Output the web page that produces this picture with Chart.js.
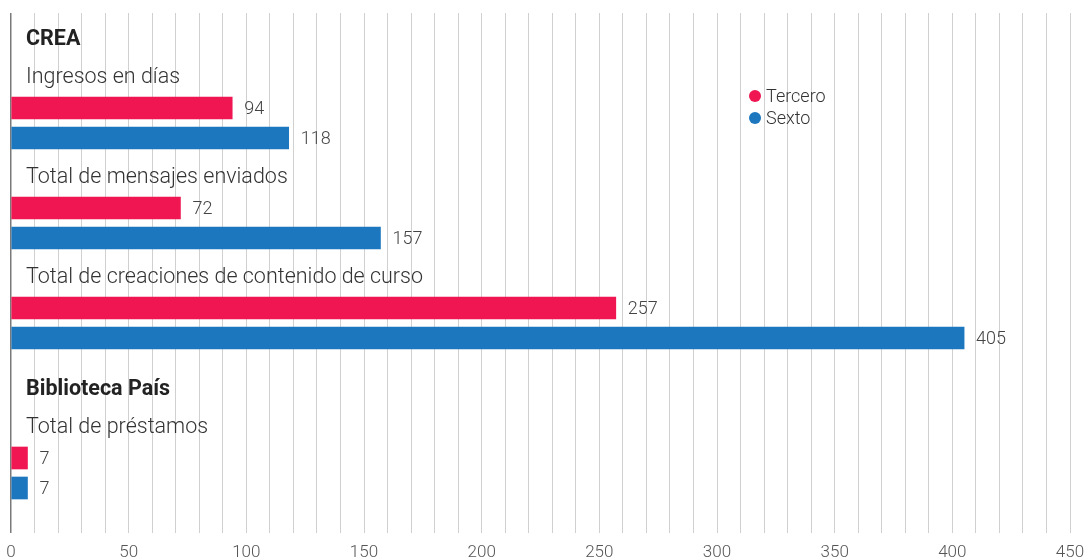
<!DOCTYPE html>
<html lang="es">
<head>
<meta charset="utf-8">
<title>CREA y Biblioteca País</title>
<script src="https://cdn.jsdelivr.net/npm/chart.js@4.4.1/dist/chart.umd.min.js"></script>
<style>
    html, body { margin: 0; padding: 0; background: #fff; }
    #wrap { width: 1085px; height: 558px; position: relative; }
</style>
</head>
<body>
<div id="wrap"><canvas id="chart"></canvas></div>
<script>
// data
const sections = ['CREA', 'Biblioteca País'];
const groupNames = [
    'Ingresos en días',
    'Total de mensajes enviados',
    'Total de creaciones de contenido de curso',
    'Total de préstamos'
];
const groupSection = [0, 0, 0, 1];
const tercero = [94, 72, 257, 7];
const sexto = [118, 157, 405, 7];
const seriesNames = ['Tercero', 'Sexto'];
const xTicks = [0, 50, 100, 150, 200, 250, 300, 350, 400, 450];

const PINK = '#ef1652';
const BLUE = '#1c77be';

// row layout (in row units of the hidden y axis)
const ROWS = 52;
const firstRow = 9, barStep = 3, groupStep = 10, sectionStep = 12;
const groupRow = [];
groupNames.forEach((g, i) => {
    if (i === 0) groupRow.push(firstRow);
    else if (groupSection[i] === groupSection[i - 1]) groupRow.push(groupRow[i - 1] + groupStep);
    else groupRow.push(groupRow[i - 1] + barStep + sectionStep);
});

const terceroPts = tercero.map((v, i) => ({ x: v, y: groupRow[i] + 0.5 }));
const sextoPts = sexto.map((v, i) => ({ x: v, y: groupRow[i] + barStep + 0.5 }));

const textPlugin = {
    id: 'texts',
    afterDatasetsDraw(chart) {
        const ctx = chart.ctx;
        const ys = chart.scales.y;
        const left = chart.chartArea.left + 15;
        ctx.save();
        ctx.textBaseline = 'middle';
        ctx.textAlign = 'left';

        // value labels
        chart.data.datasets.forEach((ds, di) => {
            chart.getDatasetMeta(di).data.forEach((bar, i) => {
                ctx.fillStyle = '#444';
                ctx.font = '300 18px Roboto';
                ctx.fillText(ds.data[i].x, bar.x + 12, bar.y + 1);
            });
        });

        // group labels and section headers
        groupNames.forEach((name, i) => {
            const yc = ys.getPixelForValue(groupRow[i] + 0.5);
            ctx.fillStyle = '#333';
            ctx.font = '300 21.5px Roboto';
            ctx.fillText(name, left, yc - 30);
            if (i === 0 || groupSection[i] !== groupSection[i - 1]) {
                ctx.font = 'bold 21.5px Roboto';
                ctx.fillStyle = '#222';
                ctx.fillText(sections[groupSection[i]], left, yc - 68);
            }
        });

        // legend
        chart.data.datasets.forEach((ds, di) => {
            const ly = 96 + di * 22;
            ctx.fillStyle = ds.backgroundColor;
            ctx.beginPath();
            ctx.arc(755, ly, 6, 0, Math.PI * 2);
            ctx.fill();
            ctx.fillStyle = '#333';
            ctx.font = '300 18px Roboto';
            ctx.fillText(ds.label, 766, ly + 1);
        });
        ctx.restore();
    }
};

new Chart(document.getElementById('chart'), {
    type: 'bar',
    data: {
        datasets: [
            {
                label: seriesNames[0],
                data: terceroPts,
                backgroundColor: PINK,
                barThickness: 22
            },
            {
                label: seriesNames[1],
                data: sextoPts,
                backgroundColor: BLUE,
                barThickness: 22
            }
        ]
    },
    options: {
        indexAxis: 'y',
        responsive: true,
        maintainAspectRatio: false,
        animation: false,
        layout: {
            padding: { left: 11, right: 15, top: 13, bottom: 0 }
        },
        plugins: {
            legend: { display: false },
            tooltip: { enabled: false }
        },
        datasets: {
            bar: { grouped: false }
        },
        scales: {
            x: {
                type: 'linear',
                min: xTicks[0],
                max: xTicks[xTicks.length - 1],
                border: { display: false },
                afterFit: scale => {
                    scale.height = 25;
                    scale.paddingLeft = 0;
                    scale.paddingRight = 0;
                },
                grid: {
                    color: ctx => ctx.tick && ctx.tick.value === 0 ? '#7a7a7a' : '#d0d0d0',
                    lineWidth: ctx => ctx.tick && ctx.tick.value === 0 ? 1.5 : 1,
                    drawTicks: false
                },
                ticks: {
                    stepSize: 10,
                    autoSkip: false,
                    maxRotation: 0,
                    padding: 10,
                    color: '#555',
                    font: { family: 'Roboto', size: 17, weight: '300' },
                    callback: v => xTicks.includes(v) ? v : ''
                }
            },
            y: {
                type: 'linear',
                min: 0,
                max: ROWS,
                reverse: true,
                offset: false,
                display: false
            }
        }
    },
    plugins: [textPlugin]
});
</script>
</body>
</html>
